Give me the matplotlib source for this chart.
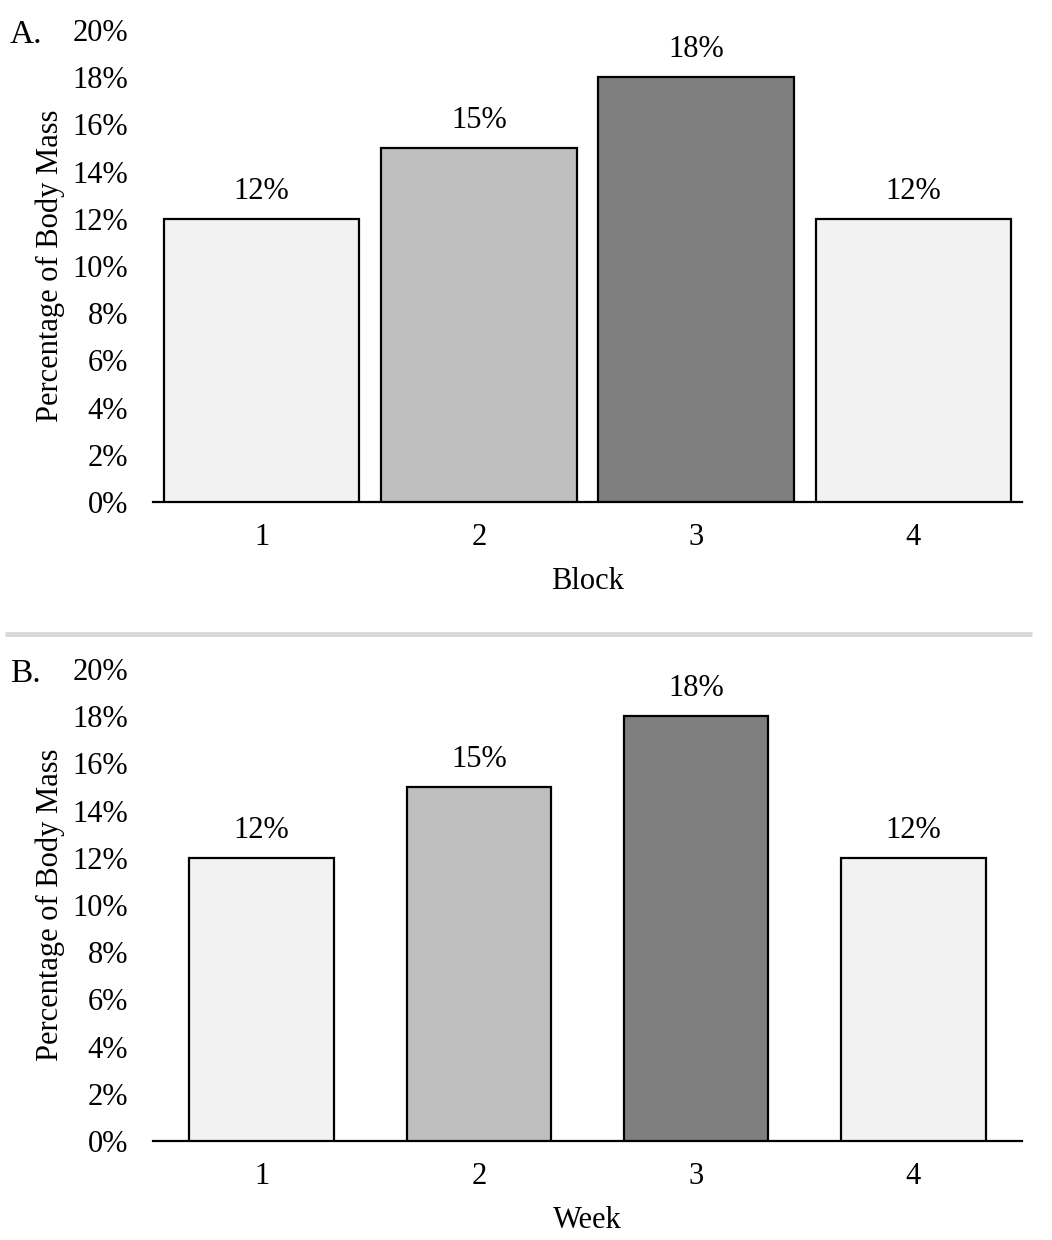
import matplotlib.pyplot as plt
from matplotlib.lines import Line2D
from matplotlib.ticker import FuncFormatter, MultipleLocator

plt.rcParams['font.family'] = ['Liberation Serif', 'DejaVu Serif']

categories = ['1', '2', '3', '4']
load_pct = [12, 15, 18, 12]
bar_colors = ['#F2F2F2', '#BFBFBF', '#7F7F7F', '#F2F2F2']
panel_labels = ['A.', 'B.']
x_titles = ['Block', 'Week']
bar_widths = [0.9, 0.665]
y_title = 'Percentage of Body Mass'

fig = plt.figure(figsize=(10.52, 12.40), dpi=100)

# [left, bottom, width, height] in figure fractions
boxes = [[0.1454, 0.5952, 0.8261, 0.3806],
         [0.1454, 0.0798, 0.8261, 0.3806]]

fs = 22

for box, letter, xt, w in zip(boxes, panel_labels, x_titles, bar_widths):
    ax = fig.add_axes(box)
    xs = range(1, len(categories) + 1)
    bars = ax.bar(xs, load_pct, width=w, color=bar_colors,
                  edgecolor='black', linewidth=1.6, zorder=3)
    for b, v in zip(bars, load_pct):
        ax.text(b.get_x() + b.get_width() / 2, v + 0.55, f'{v}%',
                ha='center', va='bottom', fontsize=fs)
    ax.set_xlim(0.5, 4.5)
    ax.set_ylim(0, 20)
    ax.yaxis.set_major_locator(MultipleLocator(2))
    ax.yaxis.set_major_formatter(FuncFormatter(lambda v, p: f'{v:.0f}%'))
    ax.set_xticks(list(xs))
    ax.set_xticklabels(categories)
    for s in ['top', 'right', 'left']:
        ax.spines[s].set_visible(False)
    ax.spines['bottom'].set_linewidth(1.6)
    ax.tick_params(axis='both', length=0, labelsize=fs)
    ax.tick_params(axis='x', pad=15)
    ax.tick_params(axis='y', pad=18)
    ax.set_xlabel(xt, fontsize=fs, labelpad=11)
    ax.set_ylabel(y_title, fontsize=fs, labelpad=5)
    ax.text(-0.165, 0.99, letter, transform=ax.transAxes, fontsize=fs + 2,
            ha='left', va='center')

# grey separator between the panels
fig.add_artist(Line2D([0.005, 0.981], [0.4891, 0.4891], color='#D9D9D9',
                      linewidth=3.6, solid_capstyle='butt',
                      transform=fig.transFigure))

fig.savefig('out.png', dpi=100)
